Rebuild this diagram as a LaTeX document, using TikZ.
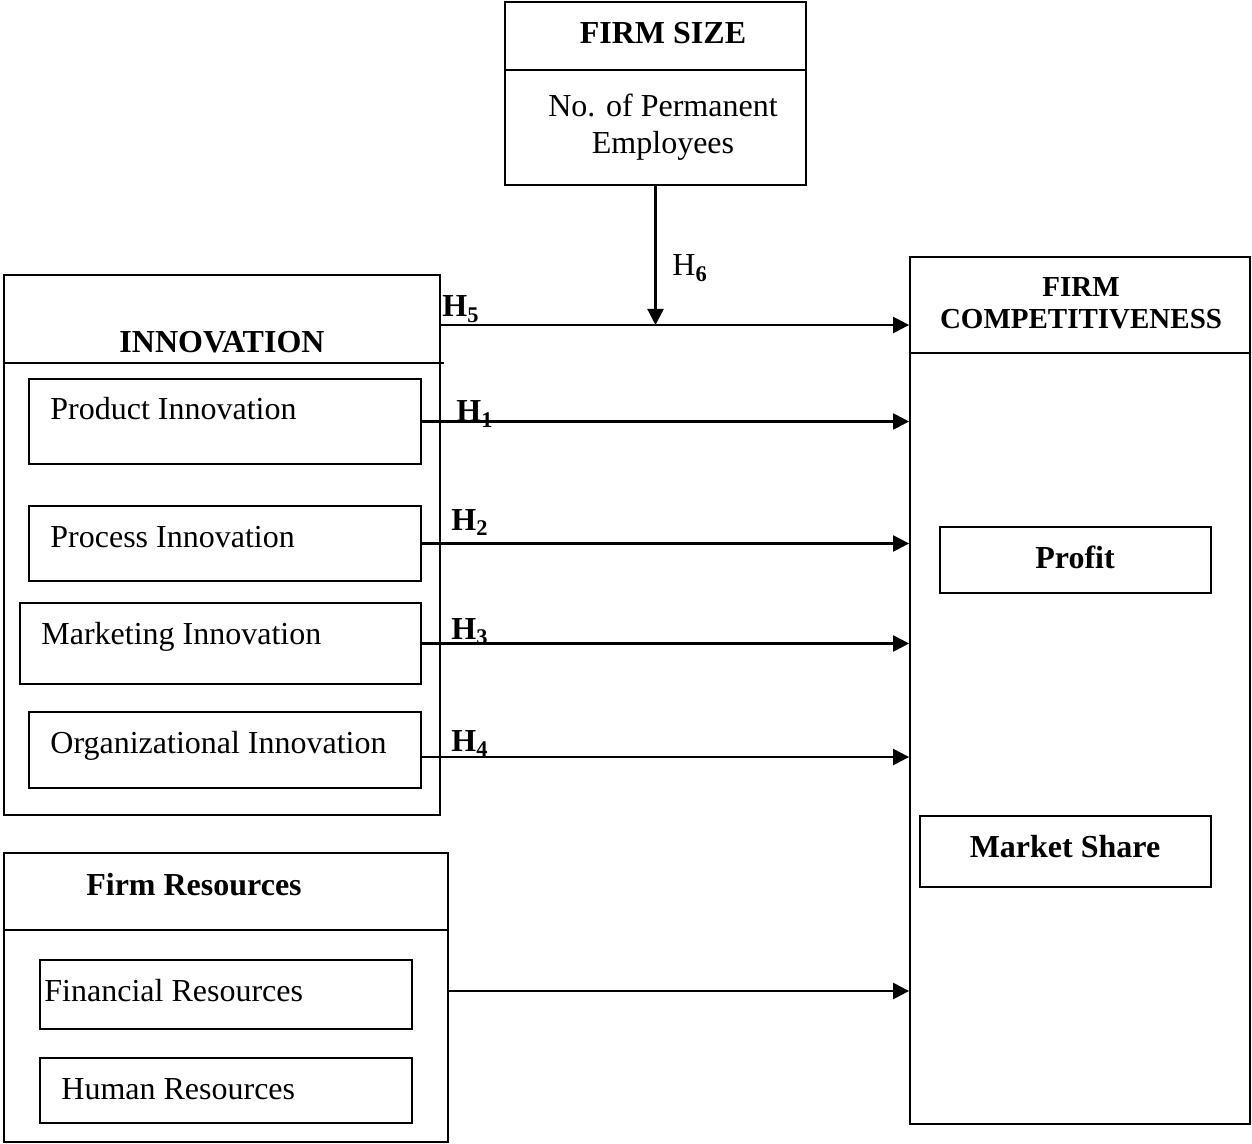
\documentclass[tikz,border=0pt]{standalone}
\usepackage{fontspec}
\setmainfont{Liberation Serif}
\usetikzlibrary{arrows.meta}

\tikzset{
  box/.style={draw, line width=0.9pt, inner sep=0pt},
  txt/.style={anchor=base west, inner sep=0pt, font=\fontsize{16}{19}\selectfont},
  head/.style={anchor=base, inner sep=0pt, font=\fontsize{16}{19}\selectfont\bfseries},
  hyp/.style={anchor=base west, inner sep=0pt, font=\fontsize{16}{19}\selectfont\bfseries},
  arr/.style={line width=1.1pt, -{Triangle[length=8pt,width=8pt]}}
}

\begin{document}
\begin{tikzpicture}[x=0.5pt, y=-0.5pt]
  \useasboundingbox (0,0) rectangle (1252,1144);
  % outer boxes
  \node[box, minimum width=150.5pt, minimum height=91.5pt] (size) at (655.5,93.5) {};
  \node[box, minimum width=218pt, minimum height=270pt] (inno) at (222,545) {};
  \node[box, minimum width=222pt, minimum height=144.5pt] (res) at (226,997.5) {};
  \node[box, minimum width=170pt, minimum height=433.5pt] (comp) at (1080,690.5) {};
  \draw[line width=0.9pt] (size.west |- 0,70) -- (size.east |- 0,70)
                          (inno.west |- 0,363) -- (444,363)
                          (res.west |- 0,930) -- (res.east |- 0,930)
                          (comp.west |- 0,353) -- (comp.east |- 0,353);
  % inner boxes
  \node[box, minimum width=196pt, minimum height=42.5pt] (prod) at (225,421.5) {};
  \node[box, minimum width=196pt, minimum height=37.5pt] (proc) at (225,543.5) {};
  \node[box, minimum width=200.5pt, minimum height=40.5pt] (mkt) at (220.5,643.5) {};
  \node[box, minimum width=196pt, minimum height=38pt] (org) at (225,750) {};
  \node[box, minimum width=186pt, minimum height=34.5pt] (fin) at (226,994.5) {};
  \node[box, minimum width=186pt, minimum height=32.5pt] (hum) at (226,1090.5) {};
  \node[box, minimum width=135.5pt, minimum height=33pt] (profit) at (1075.5,560) {};
  \node[box, minimum width=145.5pt, minimum height=35.5pt] (share) at (1065.5,851.5) {};
  % texts
  \node[head] (sizet) at (663,44) {FIRM SIZE};
  \node[anchor=base, inner sep=0pt, align=center, font=\fontsize{16}{18.5}\selectfont] (sizen) at (663,154) {No. of Permanent\\Employees};
  \node[head] (innot) at (222,353) {INNOVATION};
  \node[head] (rest) at (194,895) {Firm Resources};
  \node[anchor=base, inner sep=0pt, align=center, font=\fontsize{14.5}{16.5}\selectfont\bfseries] (compt) at (1081,329) {FIRM\\COMPETITIVENESS};
  \node[head] (profitt) at (1075,568) {Profit};
  \node[head] (sharet) at (1065,857) {Market Share};
  \node[txt] (prodt) at (50,420) {Product Innovation};
  \node[txt] (proct) at (50,547) {Process Innovation};
  \node[txt] (mktt) at (41,644) {Marketing Innovation};
  \node[txt] (orgt) at (50,753) {Organizational Innovation};
  \node[txt] (fint) at (44,1001) {Financial Resources};
  \node[txt] (humt) at (61,1099) {Human Resources};
  % hypotheses
  \coordinate (h5s) at (440,325);
  \draw[arr] (h5s) -- (h5s -| comp.west);
  \draw[arr] (size.south) -- (size.south |- h5s);
  \draw[arr] (prod.east) -- (prod.east -| comp.west);
  \draw[arr] (proc.east) -- (proc.east -| comp.west);
  \draw[arr] (mkt.east) -- (mkt.east -| comp.west);
  \draw[arr] ([yshift=-3.5pt]org.east) -- ([yshift=-3.5pt]org.east -| comp.west);
  \draw[arr] ([yshift=3.25pt]res.east) -- ([yshift=3.25pt]res.east -| comp.west);
  \node[hyp] (h5) at (442,317) {H\textsubscript{5}};
  \node[hyp, font=\fontsize{16}{19}\selectfont] (h6) at (672,276) {H\textsubscript{\textbf{6}}};
  \node[hyp] (h1) at (456,422) {H\textsubscript{1}};
  \node[hyp] (h2) at (451,530) {H\textsubscript{2}};
  \node[hyp] (h3) at (451,639) {H\textsubscript{3}};
  \node[hyp] (h4) at (451,751) {H\textsubscript{4}};
\end{tikzpicture}
\end{document}
